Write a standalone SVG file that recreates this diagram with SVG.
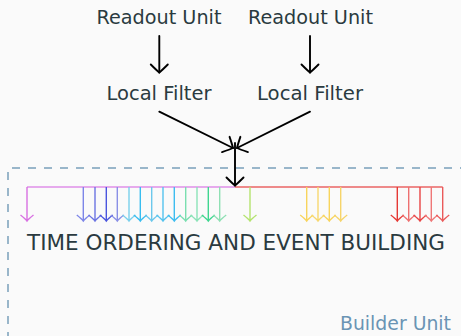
<svg xmlns="http://www.w3.org/2000/svg" xmlns:xlink="http://www.w3.org/1999/xlink" width="461" height="336" viewBox="0 0 461 336">
<style>
.t{font-family:"DejaVu Sans","Liberation Sans",sans-serif;fill:#2a3a40;text-anchor:middle}
.blk{stroke:#000;stroke-width:1.9;fill:none;stroke-linecap:round}
.ca{fill:none;stroke-width:1.4}
</style>
<defs>
<marker id="to" markerUnits="userSpaceOnUse" markerWidth="20" markerHeight="20" viewBox="-10 -10 20 20" refX="0" refY="0" orient="auto" overflow="visible">
<path d="M-8,-8.5 Q-2,-2.5 0,0 Q-2,2.5 -8,8.5" fill="none" stroke="#000" stroke-width="1.9" stroke-linecap="round"/>
</marker>
<path id="ca" d="M0,0 V34 M-6.5,28 Q-1.5,32 0,34 Q1.5,32 6.5,28"/>
</defs>
<rect width="461" height="336" fill="#fafafa"/>
<g id="builder-unit">
<path d="M8,340 V168 H461" fill="none" stroke="#7aa0bb" stroke-width="1.5" stroke-dasharray="8 8"/>
<text x="395.5" y="329.5" class="t" font-size="19" style="fill:#6a94b4" textLength="111" lengthAdjust="spacingAndGlyphs">Builder Unit</text>
</g>
<g id="readout1"><text x="159" y="23.5" class="t" font-size="19" textLength="125" lengthAdjust="spacingAndGlyphs">Readout Unit</text></g>
<g id="readout2"><text x="310.5" y="23.5" class="t" font-size="19" textLength="125" lengthAdjust="spacingAndGlyphs">Readout Unit</text></g>
<g id="filter1"><text x="159" y="100" class="t" font-size="19" textLength="105" lengthAdjust="spacingAndGlyphs">Local Filter</text></g>
<g id="filter2"><text x="310" y="100" class="t" font-size="19" textLength="106" lengthAdjust="spacingAndGlyphs">Local Filter</text></g>
<g id="time-ordering"><text x="236" y="249.5" class="t" font-size="20.5" textLength="418" lengthAdjust="spacingAndGlyphs">TIME ORDERING AND EVENT BUILDING</text></g>
<g id="connectors">
<line x1="159.3" y1="36" x2="159.3" y2="72.5" class="blk" marker-end="url(#to)"/>
<line x1="310" y1="36" x2="310" y2="72.5" class="blk" marker-end="url(#to)"/>
<line x1="159.3" y1="111.7" x2="233" y2="148" class="blk" marker-end="url(#to)"/>
<line x1="310" y1="111.7" x2="237" y2="148" class="blk" marker-end="url(#to)"/>
<line x1="27" y1="187" x2="235" y2="187" stroke="#df8fe8" stroke-width="1.5"/>
<line x1="235" y1="187" x2="442.7" y2="187" stroke="#ea6464" stroke-width="1.5"/>
<line x1="235" y1="143" x2="235" y2="185.5" class="blk" marker-end="url(#to)"/>
<g class="ca">
<use xlink:href="#ca" x="27" y="187" stroke="#d870e2"/>
<use xlink:href="#ca" x="83.3" y="187" stroke="#7d86e8"/>
<use xlink:href="#ca" x="95" y="187" stroke="#6c74e2"/>
<use xlink:href="#ca" x="106.3" y="187" stroke="#4a55de"/>
<use xlink:href="#ca" x="117.3" y="187" stroke="#8a90e6"/>
<use xlink:href="#ca" x="129" y="187" stroke="#7ad0ec"/>
<use xlink:href="#ca" x="140.3" y="187" stroke="#38bdf0"/>
<use xlink:href="#ca" x="151.7" y="187" stroke="#6cc8ec"/>
<use xlink:href="#ca" x="163" y="187" stroke="#54c3ee"/>
<use xlink:href="#ca" x="174.3" y="187" stroke="#3dbdf0"/>
<use xlink:href="#ca" x="185.7" y="187" stroke="#7adfb0"/>
<use xlink:href="#ca" x="197" y="187" stroke="#8ce3b8"/>
<use xlink:href="#ca" x="208.3" y="187" stroke="#3fd690"/>
<use xlink:href="#ca" x="219.7" y="187" stroke="#8fe0b4"/>
<use xlink:href="#ca" x="250" y="187" stroke="#b4e36e"/>
<use xlink:href="#ca" x="306.7" y="187" stroke="#f8d45c"/>
<use xlink:href="#ca" x="318" y="187" stroke="#f7d870"/>
<use xlink:href="#ca" x="329.3" y="187" stroke="#f8d45c"/>
<use xlink:href="#ca" x="340.7" y="187" stroke="#f6d46a"/>
<use xlink:href="#ca" x="397.3" y="187" stroke="#e53935"/>
<use xlink:href="#ca" x="408.7" y="187" stroke="#ee7070"/>
<use xlink:href="#ca" x="420" y="187" stroke="#e84545"/>
<use xlink:href="#ca" x="431.3" y="187" stroke="#ef7777"/>
<use xlink:href="#ca" x="442.7" y="187" stroke="#ea5a5a"/>
</g>
</g>
</svg>
